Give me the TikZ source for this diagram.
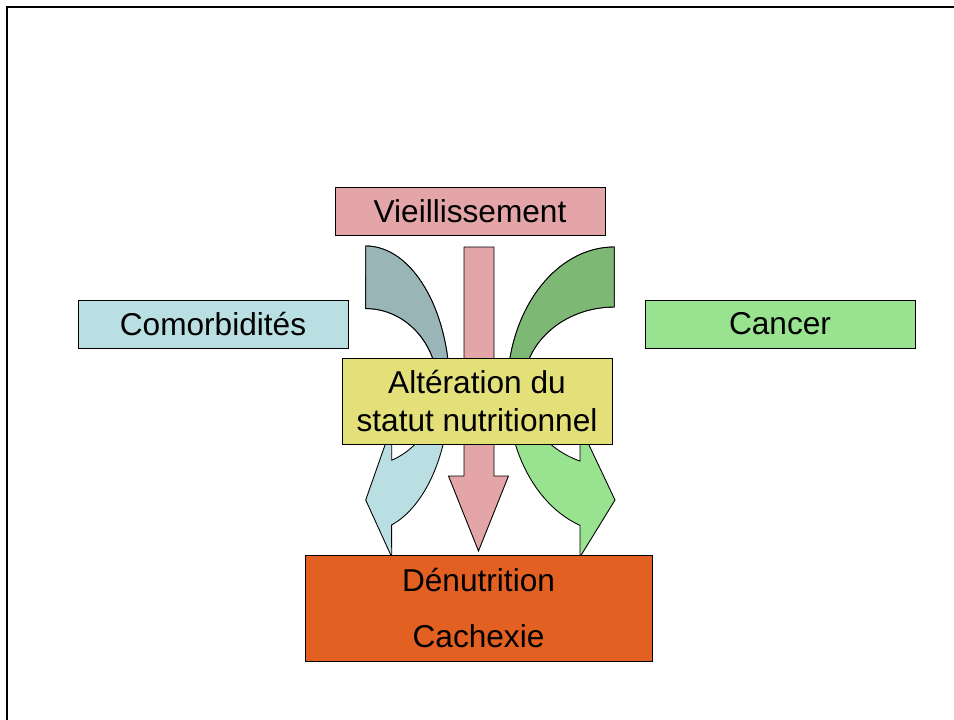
\documentclass[tikz,border=0pt]{standalone}
\usepackage{fontspec}
\setmainfont{Liberation Sans}
\usetikzlibrary{positioning}
\definecolor{AgePink}{RGB}{227,165,168}
\definecolor{ComorbBlue}{RGB}{186,223,226}
\definecolor{ComorbDark}{RGB}{154,181,184}
\definecolor{CancerGreen}{RGB}{153,226,143}
\definecolor{CancerDark}{RGB}{125,184,116}
\definecolor{StatusYellow}{RGB}{227,224,122}
\definecolor{DenutOrange}{RGB}{225,96,34}
\tikzset{
  box/.style={draw=black,line width=0.5pt,inner sep=0pt,align=center,
    minimum width=5.4cm,font=\fontsize{18}{21.6}\selectfont},
  band/.style={draw=black,line width=0.5pt,line join=miter}
}

\begin{document}
\begin{tikzpicture}[x=0.02cm,y=-0.02cm]
\useasboundingbox (0,0) rectangle (954,720);

% Frame
\draw[line width=1.3pt] (7,720) -- (7,7) -- (954,7);

% Straight arrow
\draw[band,fill=AgePink] (464,247) -- (494,247) -- (494,476) -- (508.5,476)
  -- (478.5,551) -- (448.5,476) -- (464,476) -- cycle;

% Left curved arrow
\draw[band,fill=ComorbBlue] (365.7,246)
  arc[start angle=90,end angle=-72,x radius=1.68cm,y radius=2.86cm]
  -- (391.7,557) -- (365.7,500) -- (391.7,426) -- (391.7,460.2)
  arc[start angle=-68.8,end angle=90,x radius=1.44cm,y radius=1.57cm] -- cycle;
\draw[band,fill=ComorbDark] (365.7,246)
  arc[start angle=90,end angle=0,x radius=1.68cm,y radius=2.86cm]
  -- (437.7,387)
  arc[start angle=0,end angle=90,x radius=1.44cm,y radius=1.57cm] -- cycle;

% Right curved arrow
\draw[band,fill=CancerGreen] (614.3,247)
  arc[start angle=90,end angle=251.3,x radius=2.14cm,y radius=2.86cm]
  -- (580,557) -- (615,500) -- (580,426) -- (580,461.1)
  arc[start angle=247.9,end angle=90,x radius=1.82cm,y radius=1.6cm] -- cycle;
\draw[band,fill=CancerDark] (614.3,247)
  arc[start angle=90,end angle=180,x radius=2.14cm,y radius=2.86cm]
  -- (523.3,387)
  arc[start angle=180,end angle=90,x radius=1.82cm,y radius=1.6cm] -- cycle;

% Boxes
\node[box,fill=AgePink,minimum height=0.96cm] (age) at (470,211) {Vieillissement};
\node[box,fill=ComorbBlue,minimum height=0.96cm] (comorb) at (213,324) {Comorbidités};
\node[box,fill=CancerGreen,minimum height=0.96cm] (cancer) at (780,324) {Cancer};
\node[box,fill=StatusYellow,minimum height=1.72cm] (status) at (477,401)
  {Altération du\\statut nutritionnel};
\node[box,fill=DenutOrange,minimum width=6.94cm,minimum height=2.12cm] (denut)
  at (478.5,608) {Dénutrition\\[10pt]Cachexie};

\end{tikzpicture}
\end{document}
